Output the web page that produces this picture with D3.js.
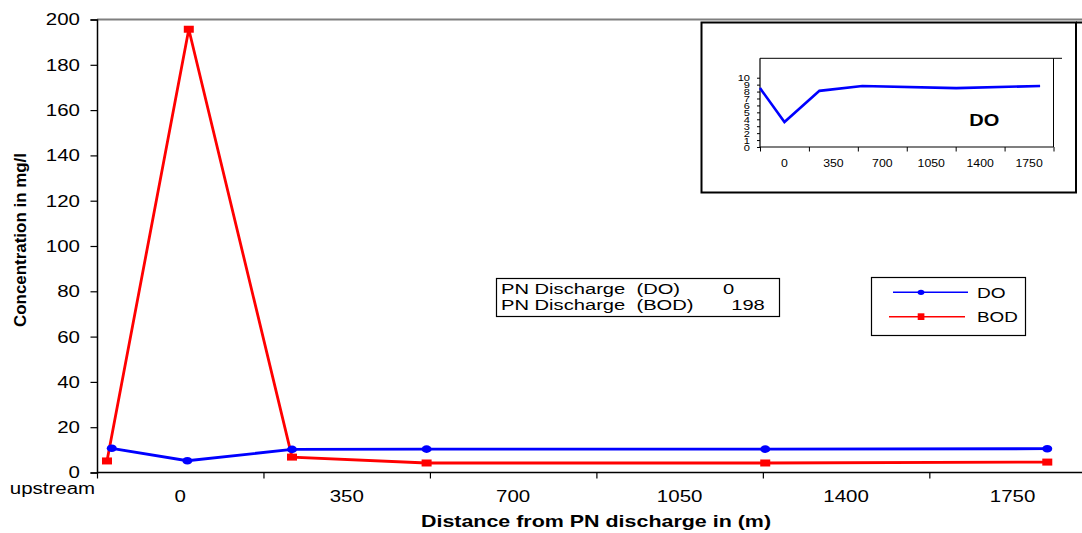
<!DOCTYPE html>
<html>
<head>
<meta charset="utf-8">
<script src="https://cdn.jsdelivr.net/npm/d3@7"></script>
<style>
  html, body { margin: 0; padding: 0; background: #fff; }
  svg { display: block; font-family: "Liberation Sans", Arial, Helvetica, sans-serif; }
</style>
</head>
<body>
<svg id="chart" width="1082" height="533"></svg>
<script>
// Sampling stations (distance from the discharge point, m); upstream station plotted left of 0
const doDistance  = [-144, 15, 235, 518, 1230, 1823];
const bodDistance = [-154, 18, 235, 518, 1230, 1823];
const doValues  = [10.7, 5.2, 10.2, 10.3, 10.3, 10.5];
const bodValues = [5.1, 195.7, 6.8, 4.2, 4.2, 4.6];

// Axis labelling
const yTicks = [0, 20, 40, 60, 80, 100, 120, 140, 160, 180, 200];
const xLabels = [0, 350, 700, 1050, 1400, 1750];
const xTickMarks = [-175, 175, 525, 875, 1225, 1575];

// Discharge table
const tableNames = ["PN Discharge  (DO)", "PN Discharge  (BOD)"];
const tableValues = ["0", "198"];

// Inset: dissolved oxygen on its own scale
const insetDistance = [-175, 0, 250, 557, 1229, 1829];
const insetDO = [8.5, 3.6, 8.1, 8.8, 8.5, 8.8];
const insetYTicks = [0, 1, 2, 3, 4, 5, 6, 7, 8, 9, 10];
const insetXTickMarks = [-175, 175, 525, 875, 1225, 1575, 1925];

const BLUE = "#0000ff", RED = "#ff0000";
const TEXT_STRETCH = 1.28;   // wide lettering used throughout
const svg = d3.select("#chart");

// widen text horizontally about its anchor point
function stretch(sel, s) {
  sel.each(function () {
    const t = d3.select(this);
    const x = +t.attr("x") || 0, y = +t.attr("y") || 0;
    t.attr("x", 0).attr("y", 0).attr("transform", `translate(${x},${y}) scale(${s},1)`);
  });
}

// ---- main chart ----
const x = d3.scaleLinear().domain([-175, 1896]).range([97, 1082]);
const y = d3.scaleLinear().domain([0, 200]).range([472.5, 19.5]);

// top border of the plot area
svg.append("line").attr("x1", 97).attr("x2", 1082).attr("y1", 19.5).attr("y2", 19.5)
  .attr("stroke", "#7f7f7f").attr("stroke-width", 2);

// y axis
const yAxis = svg.append("g").attr("transform", "translate(97,0)")
  .call(d3.axisLeft(y).tickValues(yTicks).tickSize(6.5).tickPadding(10.5));
yAxis.select(".domain").attr("stroke", "#000").attr("stroke-width", 1.5);
yAxis.selectAll(".tick line").attr("stroke", "#000").attr("stroke-width", 1.2);
yAxis.selectAll("text").attr("font-size", 16).attr("fill", "#000").attr("dy", "0.34em")
  .attr("font-family", "Liberation Sans, Arial, sans-serif");
stretch(yAxis.selectAll("text"), TEXT_STRETCH);

// x axis: tick marks between the labelled distances
const xAxis = svg.append("g").attr("transform", "translate(0,472.5)")
  .call(d3.axisBottom(x).tickValues(xTickMarks).tickSize(6).tickFormat(""));
xAxis.select(".domain").attr("stroke", "#000").attr("stroke-width", 1.5)
  .attr("d", "M97,0H1082");
xAxis.selectAll(".tick line").attr("stroke", "#000").attr("stroke-width", 1.2);

const xl = svg.append("g").selectAll("text").data(xLabels).join("text")
  .attr("x", d => x(d)).attr("y", 502.3).attr("text-anchor", "middle")
  .attr("font-size", 16).text(d => d);
stretch(xl, TEXT_STRETCH);
stretch(svg.append("text").attr("x", 52.5).attr("y", 494.3).attr("text-anchor", "middle")
  .attr("font-size", 16).text("upstream"), TEXT_STRETCH);

// axis titles
stretch(svg.append("text").attr("x", 596).attr("y", 527).attr("text-anchor", "middle")
  .attr("font-size", 16).attr("font-weight", "bold")
  .text("Distance from PN discharge in (m)"), 1.34);
svg.append("text").attr("transform", "translate(26,240) scale(1.24,1) rotate(-90)")
  .attr("text-anchor", "middle").attr("font-size", 14).attr("font-weight", "bold")
  .attr("textLength", 174).attr("lengthAdjust", "spacingAndGlyphs")
  .text("Concentration in mg/l");

// series
const doPts = doDistance.map((d, i) => [d, doValues[i]]);
const bodPts = bodDistance.map((d, i) => [d, bodValues[i]]);
const line = d3.line().x(d => x(d[0])).y(d => y(d[1]));

svg.append("path").datum(bodPts).attr("d", line).attr("fill", "none")
  .attr("stroke", RED).attr("stroke-width", 2.8);
svg.append("path").datum(doPts).attr("d", line).attr("fill", "none")
  .attr("stroke", BLUE).attr("stroke-width", 2.8);

svg.append("g").selectAll("rect").data(bodPts).join("rect")
  .attr("x", d => x(d[0]) - 5).attr("y", d => y(d[1]) - 3.5)
  .attr("width", 10).attr("height", 7).attr("fill", RED);
svg.append("g").selectAll("ellipse").data(doPts).join("ellipse")
  .attr("cx", d => x(d[0])).attr("cy", d => y(d[1])).attr("rx", 5).attr("ry", 3.8)
  .attr("fill", BLUE);

// discharge table
const tbl = svg.append("g");
tbl.append("rect").attr("x", 496.5).attr("y", 278.5).attr("width", 283).attr("height", 38)
  .attr("fill", "#fff").attr("stroke", "#000").attr("stroke-width", 1.2);
const rowBase = [294, 309.5];
const valueX = [728.5, 748];
tableNames.forEach((name, i) => {
  stretch(tbl.append("text").attr("x", 501).attr("y", rowBase[i]).attr("font-size", 15.5)
    .attr("xml:space", "preserve").style("white-space", "pre").text(name), 1.3);
  stretch(tbl.append("text").attr("x", valueX[i]).attr("y", rowBase[i]).attr("font-size", 15.5)
    .attr("text-anchor", "middle").text(tableValues[i]), 1.3);
});

// legend
const lg = svg.append("g");
lg.append("rect").attr("x", 871.5).attr("y", 277.5).attr("width", 154).attr("height", 58)
  .attr("fill", "#fff").attr("stroke", "#000").attr("stroke-width", 1.2);
lg.append("line").attr("x1", 893).attr("x2", 968).attr("y1", 292.3).attr("y2", 292.3)
  .attr("stroke", BLUE).attr("stroke-width", 1.4);
lg.append("ellipse").attr("cx", 921).attr("cy", 292.3).attr("rx", 3.4).attr("ry", 2.6).attr("fill", BLUE);
stretch(lg.append("text").attr("x", 977).attr("y", 297.5).attr("font-size", 14.5).text("DO"), 1.32);
lg.append("line").attr("x1", 889).attr("x2", 965).attr("y1", 316.7).attr("y2", 316.7)
  .attr("stroke", RED).attr("stroke-width", 1.4);
lg.append("rect").attr("x", 917.7).attr("y", 313.3).attr("width", 6.7).attr("height", 6.7).attr("fill", RED);
stretch(lg.append("text").attr("x", 977).attr("y", 321.7).attr("font-size", 14.5).text("BOD"), 1.3);

// ---- inset ----
const inset = svg.append("g");
inset.append("rect").attr("x", 701.5).attr("y", 22.5).attr("width", 374.5).attr("height", 170)
  .attr("fill", "#fff").attr("stroke", "#000").attr("stroke-width", 2);
inset.append("line").attr("x1", 1076).attr("x2", 1082).attr("y1", 22.5).attr("y2", 22.5)
  .attr("stroke", "#000").attr("stroke-width", 2);

const ix = d3.scaleLinear().domain([-175, 1925]).range([760, 1053.5]);
const iy = d3.scaleLinear().domain([0, 12.8]).range([147, 58.3]);

inset.append("path").attr("d", "M760,58.3H1062M1053.5,58.3V147")
  .attr("stroke", "#000").attr("stroke-width", 1).attr("fill", "none");

const iyAxis = inset.append("g").attr("transform", "translate(760,0)")
  .call(d3.axisLeft(iy).tickValues(insetYTicks).tickSize(3).tickPadding(7));
iyAxis.select(".domain").attr("stroke", "#000").attr("stroke-width", 1.2).attr("d", "M0,58.3V147");
iyAxis.selectAll(".tick line").attr("stroke", "#000");
iyAxis.selectAll("text").attr("font-size", 8.5).attr("fill", "#000").attr("dy", "0.36em")
  .attr("font-family", "Liberation Sans, Arial, sans-serif");
stretch(iyAxis.selectAll("text"), 1.3);

const ixAxis = inset.append("g").attr("transform", "translate(0,147)")
  .call(d3.axisBottom(ix).tickValues(insetXTickMarks).tickSize(4.5).tickFormat(""));
ixAxis.select(".domain").attr("stroke", "#000").attr("stroke-width", 1.2).attr("d", "M760,0H1053.5");
ixAxis.selectAll(".tick line").attr("stroke", "#000");

stretch(inset.append("g").selectAll("text").data(xLabels).join("text")
  .attr("x", d => ix(d)).attr("y", 166.7).attr("text-anchor", "middle")
  .attr("font-size", 10).text(d => d), 1.23);

const insetLine = d3.line().x(d => ix(d[0])).y(d => iy(d[1]));
inset.append("path").datum(insetDistance.map((d, i) => [d, insetDO[i]]))
  .attr("d", insetLine).attr("fill", "none").attr("stroke", BLUE).attr("stroke-width", 2.6);

stretch(inset.append("text").attr("x", 984.3).attr("y", 126).attr("text-anchor", "middle")
  .attr("font-size", 16).attr("font-weight", "bold").text("DO"), 1.25);
</script>
</body>
</html>
